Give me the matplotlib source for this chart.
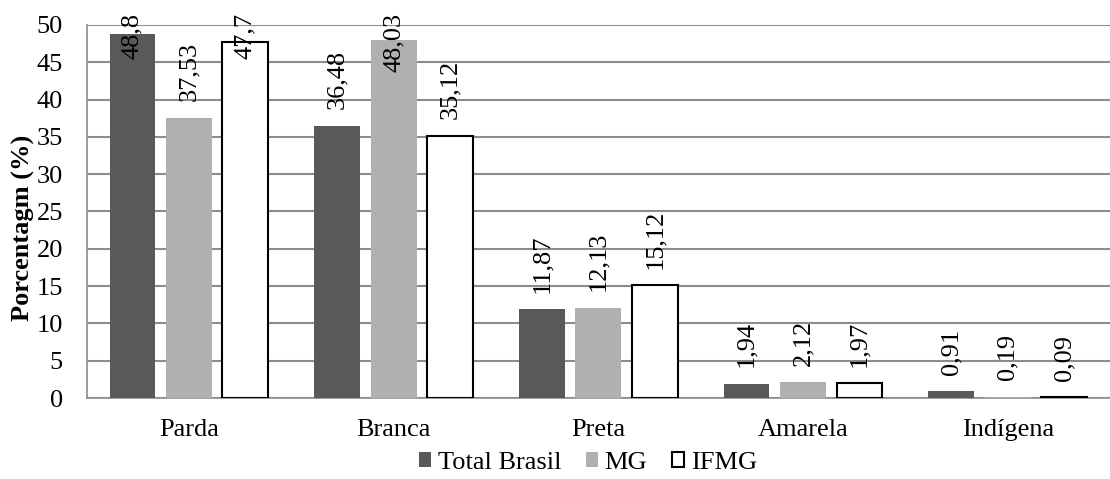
import matplotlib
matplotlib.use("Agg")
import matplotlib.pyplot as plt
import numpy as np

categories = ["Parda", "Branca", "Preta", "Amarela", "Indígena"]
series_names = ["Total Brasil", "MG", "IFMG"]
total_brasil = [48.8, 36.48, 11.87, 1.94, 0.91]
mg = [37.53, 48.03, 12.13, 2.12, 0.19]
ifmg = [47.7, 35.12, 15.12, 1.97, 0.09]

faces = ["#595959", "#b0b0b0", "white"]
edges = ["#595959", "#b0b0b0", "black"]

plt.rcParams["font.family"] = ["Liberation Serif", "DejaVu Serif"]
FS = 19

fig = plt.figure(figsize=(11.1, 4.79), dpi=100)
ax = fig.add_axes([0.078, 0.169, 0.922, 0.779])

x = np.arange(len(categories))
width = 0.224
step = 0.276
data = [total_brasil, mg, ifmg]

ax.set_ylim(0, 50)
ax.set_xlim(-0.5, len(categories) - 0.5)

labels = []
for i, (vals, name) in enumerate(zip(data, series_names)):
    pos = x + (i - 1) * step
    ax.bar(pos, vals, width=width, color=faces[i], edgecolor=edges[i],
           linewidth=1.5 if i == 2 else 0, label=name, zorder=3)
    for p, v in zip(pos, vals):
        txt = ("%g" % v).replace(".", ",")
        t = ax.annotate(txt, (p, v), xytext=(0, 12), textcoords="offset points",
                        rotation=90, ha="center", va="bottom", fontsize=FS,
                        zorder=4, annotation_clip=False)
        labels.append(t)

ax.set_yticks(np.arange(0, 51, 5))
ax.yaxis.grid(True, color="#8c8c8c", linewidth=1.5, zorder=0)
ax.set_axisbelow(True)
ax.set_xticks(x)
ax.set_xticklabels(categories)
ax.tick_params(axis="x", length=0, pad=15, labelsize=FS)
ax.tick_params(axis="y", length=0, pad=17, labelsize=FS)
for side in ["top", "right"]:
    ax.spines[side].set_visible(False)
ax.spines["left"].set_color("#8c8c8c")
ax.spines["bottom"].set_color("#8c8c8c")
ax.spines["left"].set_linewidth(1.2)
ax.spines["bottom"].set_linewidth(1.2)

ax.set_ylabel("Porcentagm (%)", fontsize=FS, fontweight="bold")
ax.yaxis.set_label_coords(-0.050, 0.455)

ax.legend(loc="center", bbox_to_anchor=(0.49, -0.174), ncol=3,
          frameon=False, handlelength=0.45, handleheight=0.45,
          handletextpad=0.25, columnspacing=0.95, fontsize=FS,
          borderaxespad=0, borderpad=0)

# labels that would run off the top of the figure are slid down onto the bar
fig.canvas.draw()
renderer = fig.canvas.get_renderer()
fig_h = fig.bbox.height
for t in labels:
    bb = t.get_window_extent(renderer)
    limit = fig_h - 13
    if bb.y1 > limit:
        t.xyann = (0, t.xyann[1] - (bb.y1 - limit) / fig.dpi * 72)

fig.savefig("out.png", dpi=100)
